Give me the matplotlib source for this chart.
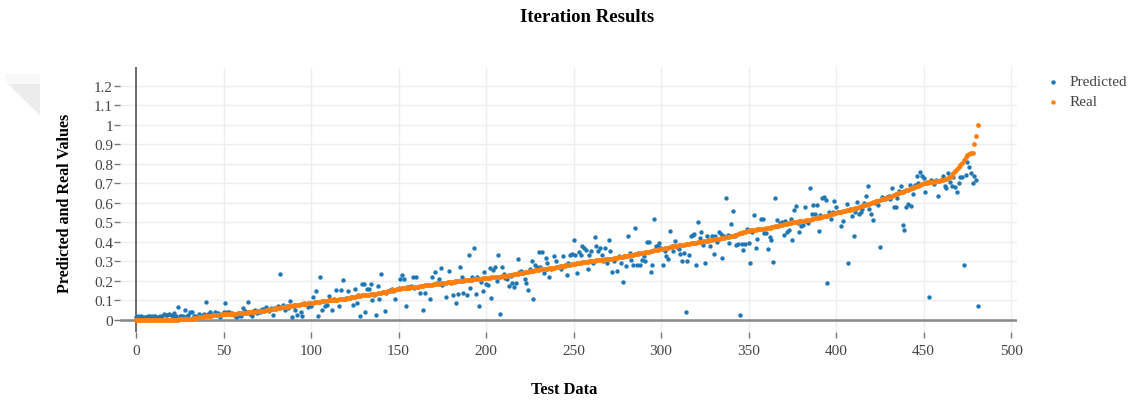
import numpy as np
import matplotlib
matplotlib.use("Agg")
import matplotlib.pyplot as plt
from matplotlib.lines import Line2D
from matplotlib.patches import Polygon

# ---------------- data ----------------
title = "Iteration Results"
x_label = "Test Data"
y_label = "Predicted and Real Values"
series_names = ["Predicted", "Real"]
x_ticks = [0, 50, 100, 150, 200, 250, 300, 350, 400, 450, 500]
y_ticks = [0, 0.1, 0.2, 0.3, 0.4, 0.5, 0.6, 0.7, 0.8, 0.9, 1.0, 1.1, 1.2]
y_tick_labels = ["0", "0.1", "0.2", "0.3", "0.4", "0.5", "0.6", "0.7", "0.8", "0.9", "1", "1.1", "1.2"]

real = [
    0.000, 0.000, 0.000, 0.000, 0.000, 0.001, 0.001, 0.001, 0.001, 0.001,
    0.001, 0.001, 0.001, 0.001, 0.001, 0.001, 0.002, 0.002, 0.002, 0.002,
    0.002, 0.002, 0.002, 0.002, 0.002, 0.003, 0.003, 0.003, 0.004, 0.004,
    0.005, 0.006, 0.007, 0.009, 0.010, 0.012, 0.014, 0.016, 0.017, 0.019,
    0.020, 0.021, 0.022, 0.023, 0.024, 0.025, 0.026, 0.027, 0.028, 0.029,
    0.030, 0.030, 0.031, 0.031, 0.032, 0.032, 0.033, 0.033, 0.034, 0.034,
    0.035, 0.036, 0.037, 0.038, 0.039, 0.040, 0.041, 0.042, 0.043, 0.044,
    0.045, 0.046, 0.047, 0.048, 0.049, 0.050, 0.052, 0.054, 0.056, 0.058,
    0.060, 0.062, 0.063, 0.065, 0.066, 0.068, 0.069, 0.071, 0.072, 0.074,
    0.075, 0.076, 0.077, 0.078, 0.080, 0.081, 0.082, 0.083, 0.085, 0.086,
    0.087, 0.088, 0.090, 0.091, 0.092, 0.094, 0.095, 0.096, 0.098, 0.099,
    0.100, 0.101, 0.102, 0.103, 0.104, 0.105, 0.106, 0.107, 0.108, 0.109,
    0.110, 0.112, 0.114, 0.116, 0.118, 0.120, 0.122, 0.124, 0.125, 0.126,
    0.127, 0.128, 0.129, 0.130, 0.131, 0.132, 0.134, 0.135, 0.137, 0.138,
    0.140, 0.142, 0.144, 0.146, 0.148, 0.150, 0.152, 0.154, 0.156, 0.158,
    0.160, 0.161, 0.162, 0.163, 0.164, 0.165, 0.166, 0.167, 0.168, 0.169,
    0.170, 0.171, 0.173, 0.174, 0.175, 0.177, 0.178, 0.179, 0.181, 0.182,
    0.183, 0.185, 0.186, 0.187, 0.189, 0.190, 0.191, 0.192, 0.193, 0.194,
    0.195, 0.196, 0.197, 0.198, 0.199, 0.200, 0.201, 0.202, 0.203, 0.204,
    0.205, 0.206, 0.207, 0.208, 0.209, 0.210, 0.211, 0.212, 0.213, 0.214,
    0.215, 0.216, 0.217, 0.218, 0.219, 0.220, 0.221, 0.222, 0.223, 0.224,
    0.225, 0.227, 0.228, 0.230, 0.232, 0.233, 0.235, 0.237, 0.238, 0.240,
    0.242, 0.243, 0.245, 0.247, 0.248, 0.250, 0.251, 0.253, 0.254, 0.256,
    0.257, 0.259, 0.260, 0.261, 0.263, 0.264, 0.265, 0.266, 0.268, 0.269,
    0.270, 0.272, 0.273, 0.275, 0.277, 0.278, 0.280, 0.282, 0.284, 0.286,
    0.287, 0.289, 0.290, 0.292, 0.293, 0.295, 0.296, 0.298, 0.299, 0.301,
    0.302, 0.304, 0.305, 0.306, 0.307, 0.308, 0.309, 0.310, 0.311, 0.312,
    0.313, 0.314, 0.315, 0.316, 0.318, 0.320, 0.322, 0.323, 0.325, 0.327,
    0.328, 0.330, 0.332, 0.333, 0.335, 0.337, 0.338, 0.340, 0.342, 0.343,
    0.345, 0.347, 0.349, 0.351, 0.353, 0.355, 0.357, 0.359, 0.361, 0.362,
    0.364, 0.366, 0.368, 0.370, 0.371, 0.373, 0.375, 0.377, 0.379, 0.380,
    0.382, 0.384, 0.385, 0.387, 0.388, 0.390, 0.391, 0.393, 0.394, 0.396,
    0.397, 0.399, 0.400, 0.402, 0.403, 0.405, 0.406, 0.408, 0.410, 0.411,
    0.413, 0.414, 0.416, 0.417, 0.419, 0.420, 0.422, 0.424, 0.426, 0.428,
    0.430, 0.432, 0.435, 0.438, 0.441, 0.444, 0.447, 0.450, 0.453, 0.456,
    0.458, 0.459, 0.460, 0.461, 0.462, 0.464, 0.465, 0.466, 0.467, 0.469,
    0.470, 0.472, 0.474, 0.476, 0.478, 0.480, 0.482, 0.484, 0.486, 0.488,
    0.490, 0.492, 0.494, 0.496, 0.498, 0.500, 0.501, 0.503, 0.504, 0.506,
    0.507, 0.509, 0.510, 0.512, 0.513, 0.515, 0.517, 0.519, 0.521, 0.523,
    0.525, 0.527, 0.529, 0.531, 0.533, 0.535, 0.538, 0.541, 0.544, 0.547,
    0.550, 0.552, 0.554, 0.556, 0.558, 0.560, 0.562, 0.564, 0.566, 0.568,
    0.570, 0.573, 0.576, 0.579, 0.582, 0.585, 0.588, 0.591, 0.594, 0.597,
    0.600, 0.603, 0.606, 0.609, 0.612, 0.615, 0.618, 0.621, 0.624, 0.627,
    0.630, 0.633, 0.637, 0.640, 0.644, 0.647, 0.651, 0.654, 0.658, 0.661,
    0.665, 0.668, 0.672, 0.675, 0.679, 0.682, 0.686, 0.689, 0.693, 0.696,
    0.700, 0.702, 0.703, 0.705, 0.706, 0.708, 0.709, 0.711, 0.712, 0.714,
    0.716, 0.719, 0.722, 0.725, 0.728, 0.731, 0.740, 0.755, 0.766, 0.775,
    0.785, 0.795, 0.805, 0.820, 0.835, 0.845, 0.850, 0.855, 0.858, 0.900,
    0.945, 1.000,
]

predicted = [
    0.015, 0.019, 0.012, 0.022, 0.016, 0.017, 0.014, 0.019, 0.022, 0.017,
    0.020, 0.022, 0.015, 0.017, 0.021, 0.018, 0.031, 0.024, 0.026, 0.031,
    0.026, 0.022, 0.034, 0.019, 0.068, 0.022, 0.020, 0.019, 0.051, 0.022,
    0.028, 0.043, 0.043, 0.022, 0.018, 0.014, 0.031, 0.019, 0.025, 0.033,
    0.090, 0.031, 0.039, 0.031, 0.028, 0.039, 0.031, 0.036, 0.014, 0.033,
    0.039, 0.086, 0.039, 0.043, 0.030, 0.036, 0.028, 0.014, 0.022, 0.034,
    0.022, 0.062, 0.045, 0.039, 0.090, 0.030, 0.022, 0.048, 0.052, 0.035,
    0.045, 0.043, 0.055, 0.058, 0.065, 0.050, 0.048, 0.060, 0.025, 0.062,
    0.055, 0.070, 0.236, 0.068, 0.077, 0.050, 0.072, 0.060, 0.097, 0.017,
    0.072, 0.050, 0.025, 0.078, 0.040, 0.020, 0.085, 0.080, 0.065, 0.088,
    0.070, 0.116, 0.092, 0.150, 0.020, 0.220, 0.050, 0.095, 0.070, 0.077,
    0.125, 0.100, 0.052, 0.108, 0.155, 0.105, 0.070, 0.155, 0.207, 0.110,
    0.112, 0.150, 0.115, 0.120, 0.075, 0.160, 0.088, 0.130, 0.022, 0.185,
    0.185, 0.040, 0.160, 0.160, 0.185, 0.100, 0.130, 0.027, 0.176, 0.108,
    0.236, 0.145, 0.048, 0.140, 0.150, 0.155, 0.160, 0.150, 0.110, 0.160,
    0.165, 0.210, 0.230, 0.210, 0.072, 0.170, 0.168, 0.175, 0.220, 0.165,
    0.220, 0.170, 0.138, 0.175, 0.050, 0.140, 0.178, 0.180, 0.110, 0.220,
    0.185, 0.248, 0.190, 0.210, 0.268, 0.180, 0.190, 0.120, 0.195, 0.250,
    0.190, 0.130, 0.200, 0.085, 0.135, 0.270, 0.220, 0.140, 0.205, 0.130,
    0.333, 0.165, 0.220, 0.370, 0.135, 0.222, 0.070, 0.193, 0.150, 0.245,
    0.185, 0.180, 0.265, 0.113, 0.255, 0.270, 0.200, 0.335, 0.030, 0.270,
    0.235, 0.215, 0.210, 0.175, 0.225, 0.190, 0.170, 0.190, 0.313, 0.245,
    0.250, 0.240, 0.210, 0.190, 0.155, 0.260, 0.300, 0.110, 0.280, 0.270,
    0.350, 0.270, 0.350, 0.240, 0.320, 0.290, 0.220, 0.260, 0.265, 0.330,
    0.300, 0.270, 0.275, 0.260, 0.330, 0.280, 0.230, 0.290, 0.335, 0.340,
    0.410, 0.335, 0.240, 0.350, 0.335, 0.380, 0.370, 0.360, 0.260, 0.335,
    0.355, 0.290, 0.425, 0.380, 0.355, 0.370, 0.333, 0.300, 0.370, 0.290,
    0.412, 0.355, 0.245, 0.300, 0.320, 0.250, 0.330, 0.290, 0.196, 0.330,
    0.275, 0.430, 0.343, 0.310, 0.284, 0.470, 0.284, 0.345, 0.280, 0.310,
    0.330, 0.304, 0.400, 0.400, 0.245, 0.280, 0.518, 0.380, 0.380, 0.395,
    0.370, 0.280, 0.355, 0.330, 0.313, 0.458, 0.380, 0.355, 0.407, 0.372,
    0.364, 0.337, 0.304, 0.343, 0.043, 0.304, 0.333, 0.429, 0.436, 0.440,
    0.280, 0.500, 0.419, 0.453, 0.386, 0.290, 0.432, 0.407, 0.380, 0.430,
    0.338, 0.433, 0.398, 0.453, 0.440, 0.320, 0.433, 0.624, 0.436, 0.395,
    0.490, 0.560, 0.433, 0.385, 0.390, 0.026, 0.390, 0.360, 0.390, 0.466,
    0.395, 0.290, 0.453, 0.540, 0.368, 0.415, 0.466, 0.520, 0.520, 0.444,
    0.444, 0.364, 0.424, 0.412, 0.296, 0.627, 0.515, 0.480, 0.497, 0.500,
    0.436, 0.509, 0.453, 0.463, 0.518, 0.410, 0.566, 0.586, 0.495, 0.453,
    0.484, 0.487, 0.578, 0.510, 0.497, 0.675, 0.544, 0.590, 0.544, 0.590,
    0.458, 0.540, 0.624, 0.630, 0.617, 0.190, 0.552, 0.518, 0.556, 0.612,
    0.578, 0.556, 0.552, 0.484, 0.509, 0.560, 0.595, 0.290, 0.569, 0.532,
    0.430, 0.556, 0.603, 0.544, 0.556, 0.570, 0.600, 0.638, 0.689, 0.569,
    0.544, 0.515, 0.600, 0.612, 0.590, 0.372, 0.629, 0.624, 0.620, 0.630,
    0.638, 0.620, 0.675, 0.581, 0.578, 0.624, 0.663, 0.686, 0.487, 0.463,
    0.578, 0.595, 0.692, 0.586, 0.646, 0.692, 0.737, 0.700, 0.757, 0.740,
    0.727, 0.658, 0.710, 0.116, 0.720, 0.715, 0.697, 0.720, 0.635, 0.715,
    0.720, 0.740, 0.686, 0.675, 0.752, 0.710, 0.686, 0.732, 0.680, 0.658,
    0.700, 0.732, 0.732, 0.280, 0.744, 0.812, 0.783, 0.752, 0.700, 0.740,
    0.720, 0.074,
]

# ---------------- styling ----------------
W, H = 1129, 406
FONT = "Liberation Serif"
plt.rcParams["font.family"] = [FONT, "DejaVu Serif"]
BLUE = "#1f77b4"
ORANGE = "#ff7f0e"
TXT = "#444444"

fig = plt.figure(figsize=(W / 100, H / 100), dpi=100)
fig.patch.set_facecolor("white")

# plot area in pixels
left_px, right_px, top_px, bottom_px = 120, 1017, 68, 333
ax = fig.add_axes([left_px / W, (H - bottom_px) / H,
                   (right_px - left_px) / W, (bottom_px - top_px) / H])
ax.set_xlim(-9.14, 503.4)
ax.set_ylim(-0.0615, 1.297)

for s in ax.spines.values():
    s.set_visible(False)

ax.set_xticks(x_ticks)
ax.set_yticks(y_ticks)
ax.set_yticklabels(y_tick_labels)
ax.tick_params(axis="both", direction="out", length=4, width=1, color="#777777",
               labelcolor=TXT, labelsize=11)
ax.tick_params(axis="x", pad=5)
ax.tick_params(axis="y", pad=1)
ax.grid(True, color="#eeeeee", linewidth=1)
ax.set_axisbelow(True)

# zero lines
ax.axhline(0, color="#888888", linewidth=1.8, zorder=1.5)
ax.axvline(0, color="#555555", linewidth=1.2, zorder=1.5)

x_pred = np.arange(len(predicted))
x_real = np.arange(len(real))
ax.scatter(x_pred, predicted, s=10, color=BLUE, linewidths=0, zorder=3)
ax.scatter(x_real, real, s=12, color=ORANGE, linewidths=0, zorder=4)

# titles
fig.text(587 / W, 1 - 18 / H, title, ha="center", va="center",
         fontsize=13.5, fontweight="bold", color="black")
fig.text(564 / W, 1 - 390 / H, x_label, ha="center", va="center",
         fontsize=11.8, fontweight="bold", color="black")
fig.text(65 / W, 1 - 203 / H, y_label, ha="center", va="center", rotation=90,
         fontsize=11.6, fontweight="bold", color="black")

# legend (drawn manually for exact placement)
for k, (name, c) in enumerate(zip(series_names, (BLUE, ORANGE))):
    yy = 1 - (83 + 20 * k) / H
    fig.add_artist(Line2D([1053 / W], [yy], marker="o", linestyle="",
                          markersize=3.2, markerfacecolor=c, markeredgewidth=0,
                          transform=fig.transFigure))
    fig.text(1070 / W, yy, name, ha="left", va="center", fontsize=11,
             color=TXT)

# faint grey triangle artifact in the top-left corner
tri = Polygon([[8 / W, 1 - 85 / H], [40 / W, 1 - 85 / H], [40 / W, 1 - 116 / H]],
              closed=True, transform=fig.transFigure, facecolor="#ececec",
              edgecolor="none")
fig.patches.append(tri)
rect = Polygon([[5 / W, 1 - 75 / H], [40 / W, 1 - 75 / H], [40 / W, 1 - 85 / H],
                [5 / W, 1 - 85 / H]], closed=True, transform=fig.transFigure,
               facecolor="#f8f8f8", edgecolor="none")
fig.patches.append(rect)

fig.savefig("out.png", dpi=100, facecolor="white")
